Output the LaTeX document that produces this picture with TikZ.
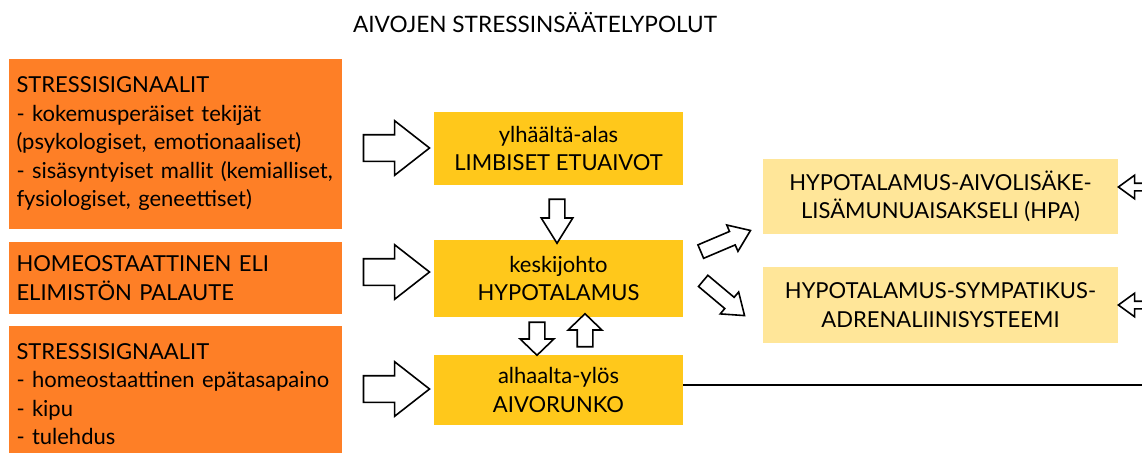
\documentclass[tikz,border=0pt]{standalone}
\usepackage{fontspec}
\setmainfont{Lato}
\usetikzlibrary{positioning,shapes.arrows}
\definecolor{signalorange}{HTML}{FE7F26}
\definecolor{levelgold}{HTML}{FFC81B}
\definecolor{axisyellow}{HTML}{FFE699}
\newcommand{\boxfont}{\fontsize{22}{28.5}\selectfont}
\tikzset{
  signalbox/.style={fill=signalorange, minimum width=333pt, text width=318pt, inner xsep=7.5pt, align=left, font=\boxfont},
  levelbox/.style={fill=levelgold, minimum width=249pt, align=center, font=\boxfont},
  axisbox/.style={fill=axisyellow, minimum width=355pt, align=center, font=\boxfont},
  fatarrow/.style={single arrow, draw=black, line width=1.6pt, fill=white, inner xsep=0pt, single arrow head indent=0pt},
  bigarrow/.style={fatarrow, inner ysep=12.5pt, single arrow head extend=14pt, single arrow tip angle=76, minimum height=66pt},
  midarrow/.style={fatarrow, inner ysep=7pt, single arrow head extend=8pt, single arrow tip angle=64, minimum height=44pt},
  stubarrow/.style={fatarrow, inner ysep=7pt, single arrow head extend=9pt, single arrow tip angle=92, minimum height=33pt},
  slantarrow/.style={fatarrow, inner ysep=6.5pt, single arrow head extend=7pt, single arrow tip angle=72, minimum height=54pt},
  edgearrow/.style={fatarrow, inner ysep=3pt, single arrow head extend=8pt, single arrow tip angle=72, minimum height=40pt}
}

\begin{document}
\begin{tikzpicture}[x=1pt, y=-1pt]
  \useasboundingbox (0,0) rectangle (1142,452);
  \clip (0,0) rectangle (1142,452);

  \node[font=\fontsize{22.6}{28}\selectfont] (title) at (535,23) {AIVOJEN STRESSINSÄÄTELYPOLUT};

  % stress signals
  \node[signalbox, minimum height=170pt] (expsig) at (175.5,144) {STRESSISIGNAALIT\\- kokemusperäiset tekijät\\(psykologiset, emotionaaliset)\\- sisäsyntyiset mallit (kemialliset,\\fysiologiset, geneettiset)};
  \node[signalbox, minimum height=72pt] (feedback) at (175.5,278) {HOMEOSTAATTINEN ELI\\ELIMISTÖN PALAUTE};
  \node[signalbox, minimum height=136pt] (bodysig) at (175.5,394) {STRESSISIGNAALIT\\- homeostaattinen epätasapaino\\- kipu\\- tulehdus};

  % brain levels
  \node[levelbox, minimum height=73pt] (limbic) at (558.5,148.5) {ylhäältä-alas\\LIMBISET ETUAIVOT};
  \node[levelbox, minimum height=77pt] (hypo) at (558.5,278.5) {keskijohto\\HYPOTALAMUS};
  \node[levelbox, minimum height=70pt] (stem) at (558.5,390) {alhaalta-ylös\\AIVORUNKO};

  % output axes
  \node[axisbox, minimum height=75pt] (hpa) at (940.5,196.5) {HYPOTALAMUS-AIVOLISÄKE-\\LISÄMUNUAISAKSELI (HPA)};
  \node[axisbox, minimum height=76pt] (sam) at (940.5,305) {HYPOTALAMUS-SYMPATIKUS-\\ADRENALIINISYSTEEMI};

  \node[bigarrow] (inarrowa) at (388,148) {};
  \node[bigarrow] (inarrowb) at (388,272) {};
  \node[bigarrow] (inarrowc) at (388,389) {};

  \node[midarrow, rotate=-90] (downa) at (557,215) {};
  \node[stubarrow, rotate=-90] (downb) at (537,335) {};
  \node[stubarrow, rotate=90] (upb) at (585,334) {};

  \node[slantarrow, rotate=23] (tohpa) at (721,243) {};
  \node[slantarrow, rotate=-40] (tosam) at (720,295) {};

  \node[edgearrow, rotate=180] (backhpa) at (1141,187) {};
  \node[edgearrow, rotate=180] (backsam) at (1141,305) {};

  \coordinate (rightedge) at (1150,385);
  \draw[line width=1.8pt] (stem.east |- rightedge) -- (rightedge);
\end{tikzpicture}
\end{document}
